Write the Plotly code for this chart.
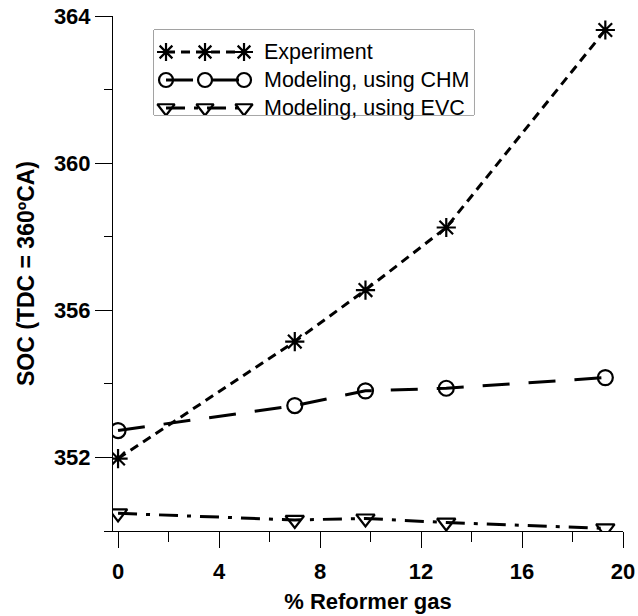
import plotly.graph_objects as go

# Reformer gas fraction (%) and start of combustion (deg CA, TDC = 360)
reformer_pct = [0, 7, 9.8, 13, 19.3]
soc_experiment = [351.97, 355.15, 356.55, 358.25, 363.62]
soc_chm = [352.73, 353.41, 353.81, 353.88, 354.17]
soc_evc = [350.48, 350.30, 350.34, 350.23, 350.07]

series_names = ["Experiment", "Modeling, using CHM", "Modeling, using EVC"]
x_ticks = [0, 4, 8, 12, 16, 20]
y_ticks = [352, 356, 360, 364]

styles = [
    dict(symbol="asterisk-open", size=16, dash="9px,6px"),
    dict(symbol="circle-open", size=15, dash="27px,19px"),
    dict(symbol="triangle-down-open", size=16, dash="19px,9px,4px,9px"),
]

fig = go.Figure()

for name, ys, st in zip(series_names, [soc_experiment, soc_chm, soc_evc], styles):
    fig.add_trace(go.Scatter(
        x=reformer_pct, y=ys, name=name, mode="lines+markers",
        line=dict(color="black", width=3, dash=st["dash"]),
        marker=dict(symbol=st["symbol"], size=st["size"], color="black",
                    line=dict(color="black", width=2.2)),
        showlegend=False,
    ))

# Key drawn on its own hidden axes: three sample markers per row plus text
key_sample_x = [0, 1, 2]
for row, (name, st) in enumerate(zip(series_names, styles), start=1):
    fig.add_trace(go.Scatter(
        x=key_sample_x, y=[row] * len(key_sample_x), mode="lines+markers",
        xaxis="x2", yaxis="y2", hoverinfo="skip",
        line=dict(color="black", width=3, dash=st["dash"]),
        marker=dict(symbol=st["symbol"], size=st["size"] - 1, color="black",
                    line=dict(color="black", width=2.2)),
        showlegend=False,
    ))
    fig.add_annotation(
        x=2.45, y=row, xref="x2", yref="y2", text=name, showarrow=False,
        xanchor="left", yanchor="middle",
        font=dict(family="Liberation Sans, Arial, sans-serif", size=21.5, color="black"),
    )

fig.add_shape(type="rect", xref="x2 domain", yref="y2 domain",
              x0=0, x1=1, y0=0, y1=1, line=dict(color="#444", width=1),
              fillcolor="white", layer="below")

tick_font = dict(family="Liberation Sans, Arial, sans-serif", size=22,
                 color="black", weight="bold")
x_title_font = dict(family="Liberation Sans, Arial, sans-serif", size=22,
                    color="black", weight="bold")
y_title_font = dict(family="Liberation Sans, Arial, sans-serif", size=23,
                    color="black", weight="bold")

fig.update_layout(
    width=638, height=616,
    margin=dict(l=113, r=15, t=16, b=85),
    paper_bgcolor="white", plot_bgcolor="white",
    xaxis=dict(
        range=[-0.2, 20], tickvals=x_ticks, ticks="outside", ticklen=16,
        tickwidth=1, tickcolor="black", showline=True, linecolor="black",
        linewidth=1, showgrid=False, zeroline=False, tickfont=tick_font,
        ticklabelstandoff=5, automargin=False,
        minor=dict(dtick=2, ticks="outside", ticklen=10, tickcolor="black"),
        title=dict(text="% Reformer gas", font=x_title_font, standoff=10),
    ),
    yaxis=dict(
        range=[350, 364], tickvals=y_ticks, ticks="outside", ticklen=17,
        tickwidth=1, tickcolor="black", showline=True, linecolor="black",
        linewidth=1, showgrid=False, zeroline=False, tickfont=tick_font,
        automargin=False,
        minor=dict(dtick=2, ticks="outside", ticklen=8, tickcolor="black"),
        title=dict(text="SOC (TDC = 360ºCA)", font=y_title_font, standoff=12),
    ),
    xaxis2=dict(domain=[0.0804, 0.7078], range=[-0.308, 7.897], anchor="y2",
                visible=False, fixedrange=True),
    yaxis2=dict(domain=[0.8078, 0.9728], range=[3.25, 0.214], anchor="x2",
                visible=False, fixedrange=True),
)

fig.write_html("out.html")
